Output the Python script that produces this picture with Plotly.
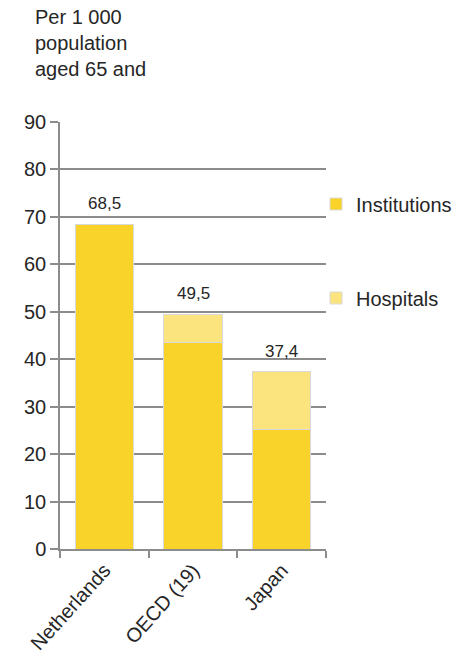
import plotly.graph_objects as go

categories = ["Netherlands", "OECD (19)", "Japan"]
institutions = [68.5, 43.6, 25.1]
hospitals = [0.0, 5.9, 12.3]
totals = [68.5, 49.5, 37.4]
y_ticks = [0, 10, 20, 30, 40, 50, 60, 70, 80, 90]

FONT = "Liberation Sans, Arial, sans-serif"
GRID = "#8c8c8c"
TXT = "#262626"

L, R, T, B = 60, 133, 122, 111
PW = 459 - L - R
PH = 660 - T - B

fig = go.Figure()
fig.add_trace(go.Bar(
    x=categories, y=institutions, name="Institutions",
    marker=dict(color="#F9D22A", line=dict(color="#d9d9d9", width=1)),
    legend="legend",
))
fig.add_trace(go.Bar(
    x=categories, y=hospitals, name="Hospitals",
    marker=dict(color="#FBE37E", line=dict(color="#d9d9d9", width=1)),
    legend="legend2",
))

for c, t in zip(categories, totals):
    fig.add_annotation(
        x=c, y=t, text=f"{t:.1f}".replace(".", ","), showarrow=False,
        yanchor="bottom", yshift=9, font=dict(family=FONT, size=17, color=TXT),
    )

fig.add_annotation(
    text="Per 1 000<br>population<br>aged 65 and",
    xref="paper", yref="paper",
    x=(33 - L) / PW, xanchor="left",
    y=(660 - B - 4) / PH, yanchor="top",
    align="left", showarrow=False,
    font=dict(family=FONT, size=20, color=TXT),
)

fig.update_layout(
    barmode="stack",
    bargap=0.345,
    width=459, height=660,
    margin=dict(l=L, r=R, t=T, b=B, autoexpand=False),
    paper_bgcolor="white", plot_bgcolor="white",
    font=dict(family=FONT, size=20, color=TXT),
    legend=dict(
        x=(316 - L) / PW, xanchor="left", y=(660 - B - 204) / PH, yanchor="middle",
        font=dict(family=FONT, size=20, color=TXT), bgcolor="rgba(0,0,0,0)",
        itemwidth=30,
    ),
    legend2=dict(
        x=(316 - L) / PW, xanchor="left", y=(660 - B - 298) / PH, yanchor="middle",
        font=dict(family=FONT, size=20, color=TXT), bgcolor="rgba(0,0,0,0)",
        itemwidth=30,
    ),
    showlegend=True,
)

fig.update_xaxes(
    showline=True, linecolor=GRID, linewidth=1.5,
    ticks="outside", tickson="boundaries", ticklen=7, tickcolor=GRID, tickwidth=1.5,
    tickangle=-48, tickfont=dict(family=FONT, size=20, color=TXT),
    showgrid=False,
)
fig.update_yaxes(
    range=[0, 90], tickvals=y_ticks,
    showline=True, linecolor=GRID, linewidth=1.5,
    showgrid=True, gridcolor=GRID, gridwidth=1.5,
    ticks="outside", ticklen=8, tickcolor=GRID, tickwidth=1.5,
    zeroline=False,
    tickfont=dict(family=FONT, size=20, color=TXT),
)

fig.write_html("out.html")
